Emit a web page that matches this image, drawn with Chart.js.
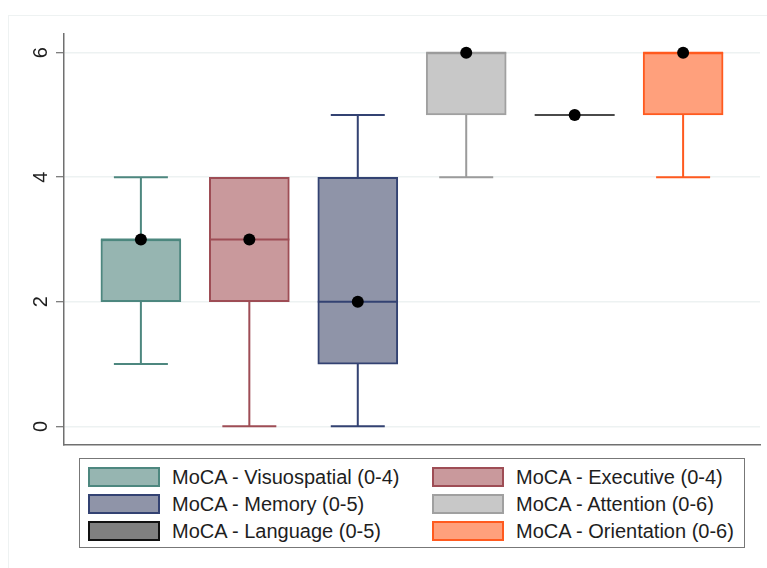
<!DOCTYPE html>
<html>
<head>
<meta charset="utf-8">
<script src="https://cdn.jsdelivr.net/npm/chart.js@4"></script>
<style>
  html, body { margin: 0; padding: 0; background: #fff; overflow: hidden; }
  #wrap { position: relative; width: 767px; height: 568px; font-family: Arial, "Liberation Sans", sans-serif; }
  #frame { position: absolute; left: 8px; top: 15px; width: 820px; height: 620px; border: 1px solid #eef2f2; }
  #chart { position: absolute; left: 0; top: 0; }
  #legend { position: absolute; left: 79px; top: 458px; width: 664px; height: 88px; border: 1.5px solid #777; background: #fff; }
  .item { position: absolute; height: 20px; font-size: 20px; color: #1e1e1e; white-space: nowrap; }
  .swatch { position: absolute; left: 0; top: 0; width: 68px; height: 16px; border: 2px solid #000; }
  .item span { position: absolute; left: 84px; top: -2px; line-height: 24px; }
</style>
</head>
<body>
<div id="wrap">
  <div id="frame"></div>
  <canvas id="chart" width="767" height="568"></canvas>
  <div id="legend"></div>
</div>
<script>
const categories = ['MoCA - Visuospatial (0-4)', 'MoCA - Executive (0-4)', 'MoCA - Memory (0-5)',
                    'MoCA - Attention (0-6)', 'MoCA - Language (0-5)', 'MoCA - Orientation (0-6)'];
const mins    = [1, 0, 0, 4, 5, 4];
const q1s     = [2, 2, 1, 5, 5, 5];
const medians = [3, 3, 2, 6, 5, 6];
const q3s     = [3, 4, 4, 6, 5, 6];
const maxs    = [4, 4, 5, 6, 5, 6];
const dots    = [3, 3, 2, 6, 5, 6];
const yTicks  = [0, 2, 4, 6];

const fills   = ['#96b5b1', '#c9999c', '#8f94a8', '#c8c8c8', '#808080', '#ffa07c'];
const strokes = ['#4d877f', '#9e4d55', '#334272', '#a0a0a0', '#111111', '#ff5a1f'];
const lineColors = ['#4d877f', '#9e4d55', '#334272', '#9b9b9b', '#4a4a4a', '#ff5a1f'];

// legend (two columns, row-major)
const legend = document.getElementById('legend');
categories.forEach((name, i) => {
  const div = document.createElement('div');
  div.className = 'item';
  div.style.left = (i % 2 === 0 ? 8 : 352) + 'px';
  div.style.top = (8 + Math.floor(i / 2) * 27) + 'px';
  div.innerHTML = `<div class="swatch" style="background:${fills[i]};border-color:${strokes[i]}"></div><span>${name}</span>`;
  legend.appendChild(div);
});

const boxPlugin = {
  id: 'boxWhiskers',
  afterDatasetDraw(chart, args) {
    if (args.index !== 1) return;
    const ctx = chart.ctx;
    const x = chart.scales.x, y = chart.scales.y;
    const half = 40, cap = 27;
    ctx.save();
    ctx.lineWidth = 2;
    categories.forEach((c, i) => {
      const cx = x.getPixelForValue(i);
      ctx.strokeStyle = lineColors[i];
      ctx.beginPath();
      if (maxs[i] > q3s[i]) {
        ctx.moveTo(cx, y.getPixelForValue(q3s[i]));
        ctx.lineTo(cx, y.getPixelForValue(maxs[i]));
        ctx.moveTo(cx - cap, y.getPixelForValue(maxs[i]));
        ctx.lineTo(cx + cap, y.getPixelForValue(maxs[i]));
      }
      if (mins[i] < q1s[i]) {
        ctx.moveTo(cx, y.getPixelForValue(q1s[i]));
        ctx.lineTo(cx, y.getPixelForValue(mins[i]));
        ctx.moveTo(cx - cap, y.getPixelForValue(mins[i]));
        ctx.lineTo(cx + cap, y.getPixelForValue(mins[i]));
      }
      ctx.moveTo(cx - half, y.getPixelForValue(medians[i]));
      ctx.lineTo(cx + half, y.getPixelForValue(medians[i]));
      ctx.stroke();
    });
    ctx.restore();
  },
  afterDraw(chart) {
    const ctx = chart.ctx;
    const y = chart.scales.y;
    ctx.save();
    ctx.fillStyle = '#1e1e1e';
    ctx.font = '20px Arial, "Liberation Sans", sans-serif';
    ctx.textAlign = 'center';
    ctx.textBaseline = 'middle';
    yTicks.forEach(v => {
      ctx.save();
      ctx.translate(chart.chartArea.left - 23, y.getPixelForValue(v));
      ctx.rotate(-Math.PI / 2);
      ctx.fillText(String(v), 0, 0);
      ctx.restore();
    });
    ctx.restore();
  }
};

new Chart(document.getElementById('chart'), {
  data: {
    datasets: [{
      type: 'scatter',
      order: 0,
      data: dots.map((d, i) => ({ x: i, y: d })),
      pointRadius: 6,
      pointBackgroundColor: '#000',
      pointBorderWidth: 0
    }, {
      type: 'bar',
      order: 1,
      data: categories.map((c, i) => ({ x: i, y: [q1s[i], q3s[i]] })),
      backgroundColor: fills,
      borderColor: strokes.map((s, i) => q1s[i] === q3s[i] ? 'rgba(0,0,0,0)' : s),
      borderWidth: 2,
      borderSkipped: false,
      barThickness: 80
    }]
  },
  options: {
    responsive: false,
    animation: false,
    layout: { padding: { left: 24, right: 7, top: 34, bottom: 123 } },
    plugins: { legend: { display: false }, tooltip: { enabled: false } },
    scales: {
      x: {
        type: 'linear',
        offset: false,
        min: -0.709,
        max: 5.709,
        grid: { display: false },
        ticks: { display: false },
        border: { display: true, color: '#707070', width: 1.5 },
        afterFit: s => { s.height = 0; }
      },
      y: {
        type: 'linear',
        min: -0.3,
        max: 6.3,
        afterBuildTicks: s => { s.ticks = yTicks.map(v => ({ value: v })); },
        ticks: { display: false },
        grid: { color: '#edf2f2', lineWidth: 1.5, tickLength: 8, tickColor: '#555', tickWidth: 1 },
        border: { display: true, color: '#707070', width: 1.5 },
        afterFit: s => { s.width = 40; }
      }
    }
  },
  plugins: [boxPlugin]
});
</script>
</body>
</html>
